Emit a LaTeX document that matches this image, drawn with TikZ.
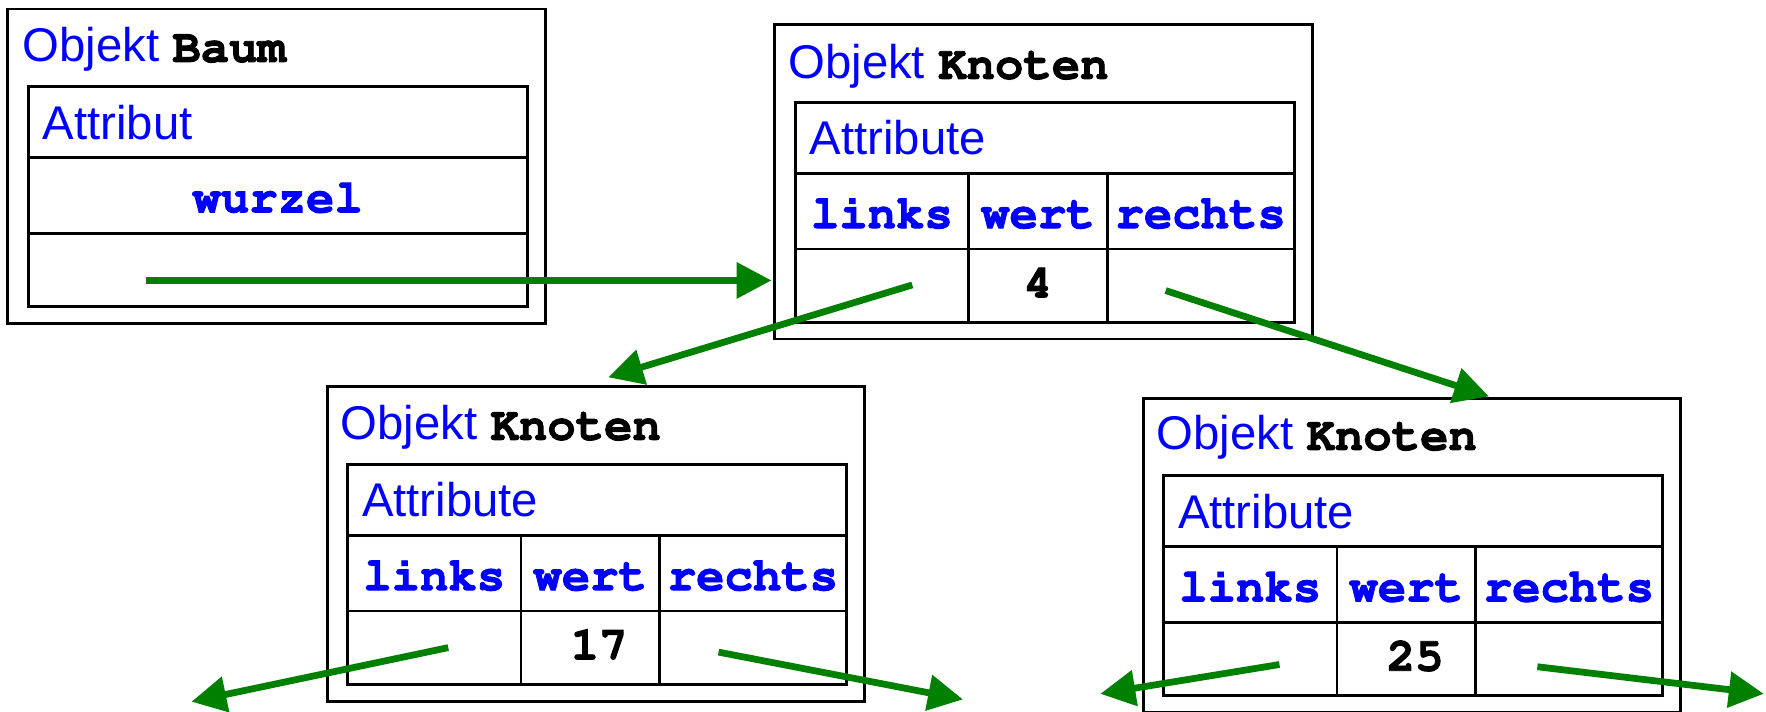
\documentclass[tikz,border=0pt]{standalone}
\usepackage[T1]{fontenc}
\usepackage{fontspec}
\setmainfont{Liberation Sans}
\usepackage{xcolor}
\usepackage{tikz}
\usetikzlibrary{arrows.meta}
\usetikzlibrary{calc}
\usetikzlibrary{positioning}
\definecolor{objblau}{RGB}{0,0,255}
\definecolor{zeigergruen}{RGB}{0,128,0}
\newcommand{\klfont}{\fontencoding{T1}\fontfamily{pcr}\fontseries{b}\selectfont}
\newcommand{\fettan}{\special{pdf:literal direct 2 Tr 0.8 w}}
\newcommand{\fettaus}{\special{pdf:literal direct 0 Tr}}
\newcommand{\kl}[1]{\textcolor{black}{{\klfont\fettan #1\fettaus}}}

\begin{document}
\begin{tikzpicture}[x=1pt, y=-1pt, node distance=0pt, outer sep=0pt, line width=2.5pt, font=\fontsize{42}{50}\selectfont]
 \tikzstyle{obj}=[draw, minimum width=477pt, minimum height=279pt, inner sep=0pt]
 \tikzstyle{titel}=[anchor=base west, inner sep=0pt, text=objblau]
 \tikzstyle{attr}=[draw, minimum width=443pt, minimum height=63pt, text width=417pt, inner xsep=13pt, inner ysep=0pt, align=left, text height=30pt, text depth=0pt, text=objblau]
 \tikzstyle{feld}=[draw, inner sep=0pt, minimum height=67pt, text height=30pt, text depth=0pt, text=objblau, font=\fontsize{42}{50}\selectfont\klfont, execute at begin node=\fettan, execute at end node=\fettaus]
 \tikzstyle{inhalt}=[draw, inner sep=0pt, minimum height=65pt, text height=21pt, text depth=0pt, font=\fontsize{42}{50}\selectfont\klfont, execute at begin node=\fettan, execute at end node=\fettaus]
 \tikzstyle{zeiger}=[draw=zeigergruen, line width=6pt, -{Triangle[length=31pt,width=31pt]}]
 \useasboundingbox (0,0) rectangle (1568,632);

 % Objekt Baum
 \node[obj] (baum) at (245.5,147.5) {};
 \node[titel] (baumT) at ($(baum.north west)+(13,47)$) {Objekt \kl{Baum}};
 \node[attr, below right=69pt and 18pt of baum.north west] (baumA) {Attribut};
 \node[feld, minimum width=443pt, below=of baumA] (baumW) {wurzel};
 \node[inhalt, minimum width=443pt, below=of baumW] (baumZ) {};

 % Knoten 4
 \node[obj] (k4) at (926.5,161.5) {};
 \node[titel] (k4T) at ($(k4.north west)+(12,48)$) {Objekt \kl{Knoten}};
 \node[attr, below right=69pt and 18pt of k4.north west] (k4A) {Attribute};
 \node[feld, minimum width=154pt, below right=0pt and 0pt of k4A.south west] (k4hl) {links};
 \node[feld, minimum width=123pt, right=of k4hl] (k4hw) {wert};
 \node[feld, minimum width=166pt, right=of k4hw] (k4hr) {rechts};
 \node[inhalt, minimum width=154pt, below=of k4hl] (k4l) {};
 \node[inhalt, minimum width=123pt, below=of k4hw] (k4w) {4};
 \node[inhalt, minimum width=166pt, below=of k4hr] (k4r) {};

 % Knoten 17
 \node[obj] (k17) at (529,483) {};
 \node[titel] (k17T) at ($(k17.north west)+(12,47)$) {Objekt \kl{Knoten}};
 \node[attr, below right=69pt and 18pt of k17.north west] (k17A) {Attribute};
 \node[feld, minimum width=154pt, below right=0pt and 0pt of k17A.south west] (k17hl) {links};
 \node[feld, minimum width=123pt, right=of k17hl] (k17hw) {wert};
 \node[feld, minimum width=166pt, right=of k17hw] (k17hr) {rechts};
 \node[inhalt, minimum width=154pt, below=of k17hl] (k17l) {};
 \node[inhalt, minimum width=123pt, below=of k17hw] (k17w) {\hspace*{16pt}17};
 \node[inhalt, minimum width=166pt, below=of k17hr] (k17r) {};

 % Knoten 25
 \node[obj] (k25) at (1253.5,493) {};
 \node[titel] (k25T) at ($(k25.north west)+(12,46)$) {Objekt \kl{Knoten}};
 \node[attr, below right=69pt and 18pt of k25.north west] (k25A) {Attribute};
 \node[feld, minimum width=154pt, below right=0pt and 0pt of k25A.south west] (k25hl) {links};
 \node[feld, minimum width=123pt, right=of k25hl] (k25hw) {wert};
 \node[feld, minimum width=166pt, right=of k25hw] (k25hr) {rechts};
 \node[inhalt, minimum width=154pt, below=of k25hl] (k25l) {};
 \node[inhalt, minimum width=123pt, below=of k25hw] (k25w) {\hspace*{16pt}25};
 \node[inhalt, minimum width=166pt, below=of k25hr] (k25r) {};

 % Zeiger
 \coordinate (baumZs) at (130,249);
 \coordinate (k4ls) at (810,253);
 \coordinate (k4le) at (540,335);
 \coordinate (k4rs) at (1035,258);
 \coordinate (k4re) at (1322,352);
 \coordinate (k17ls) at (398,575);
 \coordinate (k17le) at (170,623);
 \coordinate (k17rs) at (638,579);
 \coordinate (k17re) at (855,621);
 \coordinate (k25ls) at (1136,590);
 \coordinate (k25le) at (977,616);
 \coordinate (k25rs) at (1365,592);
 \coordinate (k25re) at (1566,616);
 \path
   (baumZs) edge[zeiger, shorten >=3pt] (baumZs -| k4.west)
   (k4ls) edge[zeiger] (k4le)
   (k4rs) edge[zeiger] (k4re)
   (k17ls) edge[zeiger] (k17le)
   (k17rs) edge[zeiger] (k17re)
   (k25ls) edge[zeiger] (k25le)
   (k25rs) edge[zeiger] (k25re);
\end{tikzpicture}
\end{document}
